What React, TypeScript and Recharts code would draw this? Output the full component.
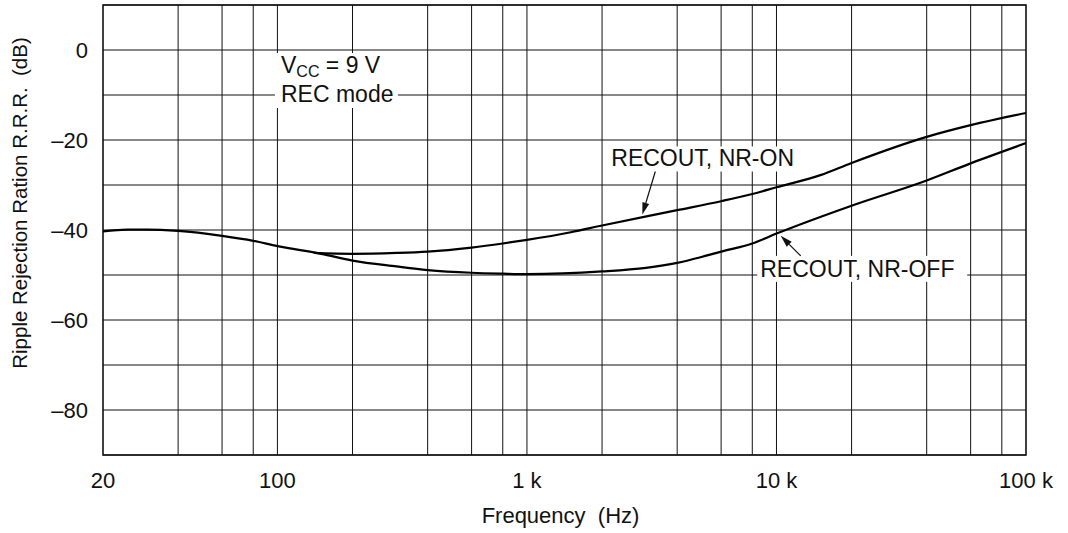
import React from 'react';
import {
  LineChart,
  Line,
  XAxis,
  YAxis,
  CartesianGrid,
  ReferenceLine,
  ReferenceArea,
  ReferenceDot,
  Label,
} from 'recharts';

// frequency (Hz) / ripple rejection (dB)
const nrOffFreq = [20, 25, 30, 40, 60, 80, 100, 150, 200, 300, 400, 600, 800, 1000, 2000, 3000, 4000, 5000, 6000, 8000, 10000, 20000, 40000, 60000, 100000];
const nrOffDb = [-40.3, -39.9, -39.9, -40.2, -41.3, -42.4, -43.6, -45.3, -46.8, -48.1, -48.9, -49.5, -49.7, -49.8, -49.2, -48.4, -47.3, -46.0, -44.8, -43.0, -40.8, -34.6, -29.0, -25.2, -20.7];

const nrOnFreq = [140, 200, 300, 400, 600, 800, 1000, 1500, 2000, 4000, 6000, 8000, 10000, 15000, 20000, 40000, 60000, 100000];
const nrOnDb = [-45.1, -45.3, -45.1, -44.8, -43.9, -43.0, -42.2, -40.5, -39.0, -35.6, -33.6, -32.0, -30.5, -27.8, -25.1, -19.3, -16.7, -14.0];

const xTicks = [20, 100, 1000, 10000, 100000];
const xTickLabels = ['20', '100', '1 k', '10 k', '100 k'];
const xGrid = [40, 60, 80, 100, 200, 400, 600, 800, 1000, 2000, 4000, 6000, 8000, 10000, 20000, 40000, 60000, 80000];

const yTicks = [-90, -80, -70, -60, -50, -40, -30, -20, -10, 0, 10];
const yLabelled = [0, -20, -40, -60, -80];

const nrOffData = nrOffFreq.map((f, i) => ({ f, db: nrOffDb[i] }));
const nrOnData = nrOnFreq.map((f, i) => ({ f, db: nrOnDb[i] }));

const FONT = '"Liberation Sans", Arial, Helvetica, sans-serif';
const INK = '#111';

const XTick = (props: any) => {
  const { x, y, payload } = props;
  const i = xTicks.indexOf(payload.value);
  return (
    <text x={x} y={y + 33} textAnchor="middle" fontFamily={FONT} fontSize={22} fill={INK}>
      {i >= 0 ? xTickLabels[i] : ''}
    </text>
  );
};

const YTick = (props: any) => {
  const { x, y, payload } = props;
  if (!yLabelled.includes(payload.value)) return <g />;
  const v = payload.value;
  const txt = v < 0 ? '\u2013' + Math.abs(v) : String(v);
  return (
    <text x={x - 15} y={y + 8} textAnchor="end" fontFamily={FONT} fontSize={22} fill={INK}>
      {txt}
    </text>
  );
};

const arrow = (x1: number, y1: number, x2: number, y2: number) => {
  const a = Math.atan2(y2 - y1, x2 - x1);
  const len = 12;
  const w = 3.5;
  const bx = x2 - len * Math.cos(a);
  const by = y2 - len * Math.sin(a);
  const px = -Math.sin(a) * w;
  const py = Math.cos(a) * w;
  return (
    <g>
      <line x1={x1} y1={y1} x2={bx} y2={by} stroke={INK} strokeWidth={1.2} />
      <polygon points={`${x2},${y2} ${bx + px},${by + py} ${bx - px},${by - py}`} fill={INK} />
    </g>
  );
};

const VccNote = (p: any) => {
  const { cx, cy } = p;
  return (
    <g fontFamily={FONT} fill={INK}>
      <rect x={cx - 2.5} y={cy - 19.5} width={123} height={55} fill="#fff" />
      <text x={cx + 3.6} y={cy} fontSize={23} fill={INK}>
        V<tspan fontSize={16} dy={4}>CC</tspan>
        <tspan dy={-4}> = 9 V</tspan>
      </text>
      <text x={cx + 3.6} y={cy + 29.5} fontSize={23} fill={INK}>
        REC mode
      </text>
    </g>
  );
};

const NrOnNote = (p: any) => {
  const { cx, cy } = p;
  return (
    <g>
      <rect x={cx - 37} y={cy - 70} width={205} height={25} fill="#fff" />
      <text x={cx - 31} y={cy - 50.5} fontFamily={FONT} fontSize={23} fill={INK}>
        RECOUT, NR-ON
      </text>
      {arrow(cx + 13, cy - 45, cx, cy - 2)}
    </g>
  );
};

const NrOffNote = (p: any) => {
  const { cx, cy } = p;
  return (
    <g>
      <rect x={cx - 23.5} y={cy + 20} width={210} height={26} fill="#fff" />
      <text x={cx - 20.5} y={cy + 41} fontFamily={FONT} fontSize={23} fill={INK}>
        RECOUT, NR-OFF
      </text>
      {arrow(cx + 20, cy + 20, cx, cy)}
    </g>
  );
};

export default function App() {
  return (
    <div style={{ position: 'absolute', left: 0, top: 0, background: '#fff' }}>
      <LineChart width={1068} height={533} margin={{ top: 5, right: 42, bottom: 38, left: 0 }}>
        <CartesianGrid vertical={false} stroke={INK} strokeWidth={1} />
        <XAxis
          dataKey="f"
          type="number"
          scale="log"
          domain={[20, 100000]}
          ticks={xTicks}
          interval={0}
          allowDataOverflow
          axisLine={false}
          tickLine={false}
          tickSize={0}
          tickMargin={0}
          height={40}
          tick={(p: any) => <XTick {...p} />}
        >
          <Label
            content={(lp: any) => {
              const vb = lp.viewBox;
              return (
                <text x={vb.x + vb.width / 2 - 4} y={vb.y + 68} textAnchor="middle" fontFamily={FONT} fontSize={22} fill={INK}>
                  Frequency{'\u00a0\u00a0'}(Hz)
                </text>
              );
            }}
          />
        </XAxis>
        <YAxis
          type="number"
          domain={[-90, 10]}
          ticks={yTicks}
          interval={0}
          allowDataOverflow
          axisLine={false}
          tickLine={false}
          tickSize={0}
          tickMargin={0}
          width={103}
          tick={(p: any) => <YTick {...p} />}
        >
          <Label
            content={(lp: any) => {
              const vb = lp.viewBox;
              const cx = 27;
              const cy = vb.y + vb.height / 2 - 27;
              return (
                <text
                  x={cx}
                  y={cy}
                  transform={`rotate(-90, ${cx}, ${cy})`}
                  textAnchor="middle"
                  fontFamily={FONT}
                  fontSize={20.5}
                  fill={INK}
                >
                  Ripple Rejection Ration R.R.R.{'\u00a0\u00a0'}(dB)
                </text>
              );
            }}
          />
        </YAxis>
        {xGrid.map((f) => (
          <ReferenceLine key={f} x={f} stroke={INK} strokeWidth={1} />
        ))}
        <ReferenceArea x1={20} x2={100000} y1={-90} y2={10} fill="none" stroke={INK} strokeWidth={1.6} fillOpacity={0} />
        <Line
          data={nrOffData}
          dataKey="db"
          type="monotone"
          stroke="#000"
          strokeWidth={2.2}
          dot={false}
          isAnimationActive={false}
        />
        <Line
          data={nrOnData}
          dataKey="db"
          type="monotone"
          stroke="#000"
          strokeWidth={2.2}
          dot={false}
          isAnimationActive={false}
        />
        <ReferenceDot x={100} y={-5} r={0} shape={(p: any) => <VccNote {...p} />} />
        <ReferenceDot x={2900} y={-37} r={0} shape={(p: any) => <NrOnNote {...p} />} />
        <ReferenceDot x={10400} y={-41.3} r={0} shape={(p: any) => <NrOffNote {...p} />} />
      </LineChart>
    </div>
  );
}
